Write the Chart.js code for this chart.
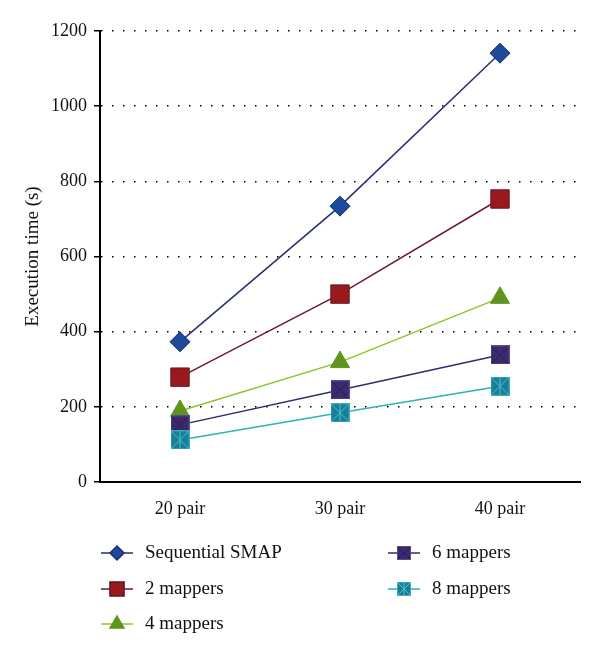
<!DOCTYPE html>
<html>
<head>
<meta charset="utf-8">
<script src="https://cdn.jsdelivr.net/npm/chart.js@4"></script>
<style>
  html, body { margin: 0; padding: 0; background: #fff; }
  #wrap { width: 600px; height: 657px; }
</style>
</head>
<body>
<div id="wrap"><canvas id="grafico" width="600" height="657"></canvas></div>
<script>
// datos
const categories = ["20 pair", "30 pair", "40 pair"];
const smap = [373, 734, 1141];
const mappers2 = [279, 500, 753];
const mappers4 = [189, 319, 490];
const mappers6 = [152, 245, 338];
const mappers8 = [112, 184, 255];
const yTicks = [0, 200, 400, 600, 800, 1000, 1200];

const FONT = "'Liberation Serif', 'DejaVu Serif', serif";

// marcador cuadrado con cruz (6 y 8 mappers)
function crossSquare(size, fill, border, cross, vertical) {
  const c = document.createElement("canvas");
  c.width = size; c.height = size;
  const g = c.getContext("2d");
  g.fillStyle = fill;
  g.fillRect(0, 0, size, size);
  g.strokeStyle = cross;
  g.lineWidth = 1;
  g.beginPath();
  g.moveTo(1, 1); g.lineTo(size - 1, size - 1);
  g.moveTo(size - 1, 1); g.lineTo(1, size - 1);
  if (vertical) { g.moveTo(size / 2, 1); g.lineTo(size / 2, size - 1); }
  g.stroke();
  g.strokeStyle = border;
  g.strokeRect(0.5, 0.5, size - 1, size - 1);
  return c;
}

const img6 = crossSquare(19, "#3b2a6c", "#5a4a8a", "#2a1d55", false);
const img8 = crossSquare(19, "#1b7d98", "#3aa9b8", "#3fc7cc", true);
const img6s = crossSquare(14, "#3b2a6c", "#5a4a8a", "#2a1d55", false);
const img8s = crossSquare(14, "#1b7d98", "#3aa9b8", "#3fc7cc", true);

const series = [
  { label: "Sequential SMAP", data: smap, line: "#27306a", fill: "#1d4a9a", edge: "#16306e", style: "rectRot", r: 10, legendStyle: "rectRot", lr: 7 },
  { label: "2 mappers", data: mappers2, line: "#6e1734", fill: "#9a1a1a", edge: "#5c1a2c", style: "rect", r: 13, legendStyle: "rect", lr: 10 },
  { label: "4 mappers", data: mappers4, line: "#8cc524", fill: "#5f951d", edge: "#5f951d", style: "triangle", r: 11, legendStyle: "triangle", lr: 8 },
  { label: "6 mappers", data: mappers6, line: "#302b6e", fill: "#3b2a6c", edge: "#3b2a6c", style: img6, r: 10, legendStyle: img6s, lr: 7 },
  { label: "8 mappers", data: mappers8, line: "#2fb3b8", fill: "#1b7d98", edge: "#1b7d98", style: img8, r: 10, legendStyle: img8s, lr: 7 }
];

// leyenda en dos columnas con linea y marcador
const legendSlots = [
  { x: 101, y: 553 }, { x: 101, y: 589 }, { x: 101, y: 624 },
  { x: 388, y: 553 }, { x: 388, y: 589 }
];

const legendPlugin = {
  id: "leyenda",
  afterDraw(chart) {
    const ctx = chart.ctx;
    ctx.save();
    series.forEach((s, i) => {
      const p = legendSlots[i];
      ctx.strokeStyle = s.line;
      ctx.lineWidth = 1.5;
      ctx.beginPath();
      ctx.moveTo(p.x, p.y);
      ctx.lineTo(p.x + 32, p.y);
      ctx.stroke();
      ctx.fillStyle = s.fill;
      ctx.strokeStyle = s.edge;
      Chart.helpers.drawPoint(ctx, { pointStyle: s.legendStyle, radius: s.lr, borderWidth: 1, rotation: 0 }, p.x + 16, p.y);
      ctx.fillStyle = "#111";
      ctx.font = "19px " + FONT;
      ctx.textAlign = "left";
      ctx.textBaseline = "middle";
      ctx.fillText(s.label, p.x + 44, p.y);
    });
    ctx.restore();
  }
};

const bgPlugin = {
  id: "fondo",
  beforeDraw(chart) {
    const ctx = chart.ctx;
    ctx.save();
    ctx.fillStyle = "#fff";
    ctx.fillRect(0, 0, chart.width, chart.height);
    ctx.restore();
  }
};

new Chart(document.getElementById("grafico"), {
  type: "line",
  data: {
    labels: categories,
    datasets: series.map((s, i) => ({
      label: s.label,
      data: s.data,
      borderColor: s.line,
      borderWidth: 1.5,
      backgroundColor: s.fill,
      pointStyle: s.style,
      pointRadius: s.r,
      pointHoverRadius: s.r,
      pointBackgroundColor: s.fill,
      pointBorderColor: s.edge,
      pointBorderWidth: 1,
      tension: 0,
      fill: false,
      order: series.length - 1 - i
    }))
  },
  options: {
    responsive: false,
    animation: false,
    events: [],
    layout: { padding: { top: 31, right: 20, left: 0, bottom: 0 } },
    plugins: {
      legend: { display: false },
      tooltip: { enabled: false }
    },
    scales: {
      x: {
        offset: true,
        grid: { display: false, drawTicks: false },
        border: { display: true, color: "#000", width: 2 },
        ticks: { color: "#111", padding: 16, font: { family: FONT, size: 18 } },
        afterFit(s) { s.height = 175; }
      },
      y: {
        min: 0,
        max: 1200,
        afterBuildTicks(s) { s.ticks = yTicks.map(v => ({ value: v })); },
        grid: {
          color: "#000",
          lineWidth: 1.5,
          tickLength: 6,
          tickColor: "#000",
          tickWidth: 1.5,
          tickBorderDash: []
        },
        border: { display: true, color: "#000", width: 2, dash: [1.5, 9.5] },
        ticks: {
          color: "#111",
          padding: 7,
          font: { family: FONT, size: 18 },
          callback: v => String(v)
        },
        title: {
          display: true,
          text: "Execution time (s)",
          color: "#111",
          font: { family: FONT, size: 19 },
          padding: { top: 22, bottom: 8 }
        },
        afterFit(s) { s.width = 100; }
      }
    }
  },
  plugins: [bgPlugin, legendPlugin]
});
</script>
</body>
</html>
